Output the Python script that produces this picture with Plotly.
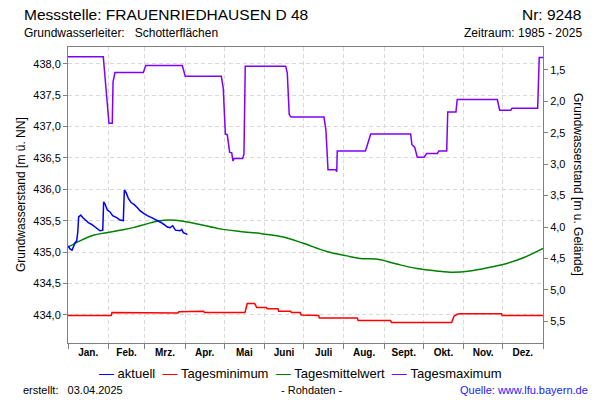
import plotly.graph_objects as go

# ---------------- data ----------------
MONTH_STARTS = [0, 31, 59, 90, 120, 151, 181, 212, 243, 273, 304, 334, 365]
MONTH_LABELS = ["Jan.", "Feb.", "Mrz.", "Apr.", "Mai", "Juni", "Juli",
                "Aug.", "Sept.", "Okt.", "Nov.", "Dez."]

GROUND = 439.4  # Geländehöhe [m ü. NN]

LEFT_TICKS = [434.0, 434.5, 435.0, 435.5, 436.0, 436.5, 437.0, 437.5, 438.0]
RIGHT_TICKS = [1.5, 2.0, 2.5, 3.0, 3.5, 4.0, 4.5, 5.0, 5.5]

# aktuell (2025)
AKT_DAY = [0.2, 1.5, 3.1, 4.1, 5.4, 6.7, 7.5, 8.2, 9.8, 11.3, 13.1, 15.6, 18.2,
           20.7, 22.8, 24.6, 26.7, 27.4, 28.4, 30.2, 32.3, 34.3, 37.4, 40.0,
           42.5, 43.3, 44.6, 46.3, 48.4, 50.7, 53.2, 55.3, 57.9, 60.9, 64.3,
           67.6, 70.7, 73.8, 76.3, 78.4, 80.5, 82.5, 86.1, 87.4, 88.6, 90.7, 91.7]
AKT_VAL = [435.10, 435.05, 435.03, 435.08, 435.15, 435.18, 435.32, 435.56,
           435.59, 435.55, 435.51, 435.47, 435.44, 435.40, 435.36, 435.34,
           435.35, 435.80, 435.77, 435.67, 435.64, 435.58, 435.55, 435.51,
           435.50, 435.99, 435.95, 435.86, 435.79, 435.76, 435.71, 435.66,
           435.62, 435.58, 435.55, 435.52, 435.48, 435.44, 435.40, 435.39,
           435.42, 435.35, 435.34, 435.36, 435.31, 435.29, 435.28]

# Tagesminimum
MIN_DAY = [0, 33.2, 33.8, 46.6, 47.2, 84.5, 85.2, 89.6, 90.2, 104.2, 104.8,
           136.0, 137.7, 143.4, 145.0, 152.4, 153.0, 161.3, 161.9, 171.1,
           171.7, 178.5, 179.1, 186.2, 186.8, 192.6, 193.2, 222.3, 222.9,
           247.9, 248.5, 257.3, 257.9, 287.6, 288.2, 294.8, 296.6, 299.0,
           301.2, 313.7, 314.3, 316.8, 317.4, 333.0, 333.6, 365]
MIN_VAL = [433.99, 433.99, 434.04, 434.04, 434.03, 434.03, 434.05, 434.05,
           434.06, 434.06, 434.04, 434.04, 434.18, 434.18, 434.12, 434.12,
           434.10, 434.10, 434.06, 434.06, 434.04, 434.04, 434.00, 434.00,
           433.99, 433.99, 433.95, 433.95, 433.91, 433.91, 433.88, 433.88,
           433.87, 433.87, 433.88, 433.88, 433.98, 434.01, 434.02, 434.02,
           434.03, 434.03, 434.02, 434.02, 433.99, 433.99]

# Tagesmittelwert
MEAN_DAY = [0, 9.2, 19.4, 29.7, 40.0, 50.2, 60.5, 70.7, 78.4, 88.6, 101.4,
            116.8, 132.2, 147.0, 150.1, 165.4, 180.8, 198.8, 214.2, 224.4,
            237.2, 252.6, 268.0, 283.3, 296.1, 308.9, 324.3, 337.1, 349.9, 365]
MEAN_VAL = [435.08, 435.18, 435.27, 435.31, 435.35, 435.39, 435.45, 435.50,
            435.51, 435.49, 435.44, 435.37, 435.33, 435.30, 435.29, 435.24,
            435.14, 435.01, 434.94, 434.90, 434.89, 434.81, 434.74, 434.70,
            434.68, 434.70, 434.76, 434.82, 434.91, 435.06]

# Tagesmaximum
MAX_DAY = [0, 27.1, 31.5, 34.0, 34.6, 36.1, 57.9, 59.7, 87.8, 90.1, 117.8,
           119.3, 120.9, 122.4, 124.2, 125.8, 126.8, 127.6, 134.2, 135.2,
           136.2, 167.3, 168.5, 170.0, 171.4, 196.7, 198.2, 199.8, 205.9,
           206.5, 206.9, 228.4, 229.2, 231.5, 232.6, 263.3, 264.3, 266.4,
           268.4, 273.6, 275.6, 283.8, 284.9, 291.0, 291.8, 298.1, 299.1,
           329.9, 331.7, 340.2, 341.2, 360.9, 362.1, 365]
MAX_VAL = [438.11, 438.11, 437.05, 437.05, 437.71, 437.86, 437.86, 437.97,
           437.97, 437.80, 437.80, 437.61, 436.88, 436.87, 436.59, 436.58,
           436.45, 436.49, 436.49, 436.56, 437.96, 437.96, 437.85, 437.19,
           437.15, 437.15, 436.94, 436.31, 436.31, 436.28, 436.61, 436.61,
           436.65, 436.80, 436.88, 436.88, 436.71, 436.67, 436.51, 436.51,
           436.57, 436.57, 436.61, 436.61, 437.23, 437.23, 437.43, 437.43,
           437.26, 437.26, 437.29, 437.29, 438.10, 438.10]

# ---------------- layout helpers ----------------
W, H = 600, 400
L, R, T, B = 68, 543, 47, 343
Y_MIN, Y_MAX = 433.553, 438.266
FONT = "Liberation Sans, Arial, sans-serif"
GRID = "#d9d9d9"
AXC = "#808080"


def px(x):
    return (x - L) / (R - L)


def py(y):
    return (B - y) / (B - T)


month_mids = [(a + b) / 2 for a, b in zip(MONTH_STARTS[:-1], MONTH_STARTS[1:])]

fig = go.Figure()
fig.add_trace(go.Scatter(x=MIN_DAY, y=MIN_VAL, mode="lines", name="Tagesminimum",
                         line=dict(color="#ff0000", width=1.5)))
fig.add_trace(go.Scatter(x=MEAN_DAY, y=MEAN_VAL, mode="lines", name="Tagesmittelwert",
                         line=dict(color="#008000", width=1.5, shape="spline")))
fig.add_trace(go.Scatter(x=MAX_DAY, y=MAX_VAL, mode="lines", name="Tagesmaximum",
                         line=dict(color="#8000ff", width=1.5)))
fig.add_trace(go.Scatter(x=AKT_DAY, y=AKT_VAL, mode="lines", name="aktuell",
                         line=dict(color="#0000ff", width=1.5)))
# registers the right-hand (depth) axis
fig.add_trace(go.Scatter(x=[], y=[], yaxis="y2", showlegend=False, hoverinfo="skip"))

fig.update_layout(
    width=W, height=H,
    margin=dict(l=L, r=W - R, t=T, b=H - B),
    paper_bgcolor="white", plot_bgcolor="white",
    showlegend=False,
    separators=",.",
    font=dict(family=FONT, color="black"),
    xaxis=dict(
        range=[0, 365], tickmode="array", tickvals=month_mids, ticktext=MONTH_LABELS,
        ticks="", showgrid=False, zeroline=False,
        showline=True, linecolor=AXC, linewidth=1, mirror=True,
        tickfont=dict(size=10, family=FONT, weight="bold"),
        minor=dict(tickmode="array", tickvals=MONTH_STARTS, ticks="outside",
                   ticklen=5, tickcolor=AXC, showgrid=True, gridcolor=GRID,
                   griddash="4px,3px", gridwidth=1),
    ),
    yaxis=dict(
        range=[Y_MIN, Y_MAX], tickmode="array", tickvals=LEFT_TICKS, tickformat=".1f",
        ticks="outside", ticklen=4, tickcolor=AXC, showline=True, linecolor=AXC,
        linewidth=1, showgrid=True, gridcolor=GRID, griddash="4px,3px",
        zeroline=False, tickfont=dict(size=11, family=FONT),
    ),
    yaxis2=dict(
        overlaying="y", side="right", anchor="x",
        range=[GROUND - Y_MIN, GROUND - Y_MAX], tickmode="array",
        tickvals=RIGHT_TICKS, tickformat=".1f",
        ticks="outside", ticklen=4, tickcolor=AXC, showline=True, linecolor=AXC,
        linewidth=1, showgrid=False, zeroline=False,
        tickfont=dict(size=11, family=FONT),
    ),
)

ann = []


def text(x, y, s, size, xanchor="left", color="black", angle=0):
    ann.append(dict(x=px(x), y=py(y), xref="paper", yref="paper", text=s,
                    showarrow=False, xanchor=xanchor, yanchor="middle",
                    textangle=angle, font=dict(size=size, family=FONT, color=color)))


text(22, 14, "Messstelle: FRAUENRIEDHAUSEN D 48", 15.5)
text(583, 14, "Nr: 9248", 15.5, xanchor="right")
text(22, 33, "Grundwasserleiter:\u00a0\u00a0 Schotterflächen", 12)
text(584, 33, "Zeitraum: 1985 - 2025", 12, xanchor="right")
text(21, 195, "Grundwasserstand [m ü. NN]", 12, xanchor="center", angle=-90)
text(578, 184, "Grundwasserstand [m u. Gelände]", 12, xanchor="center", angle=90)

legend_items = [("aktuell", "#0000ff"), ("Tagesminimum", "#ff0000"),
                ("Tagesmittelwert", "#008000"), ("Tagesmaximum", "#8000ff")]
legend_txt = "\u00a0\u00a0".join(
    f'<span style="color:{c};font-size:15px">\u2014</span>\u00a0{n}' for n, c in legend_items)
text(300, 372, legend_txt, 13, xanchor="center")

text(21, 390, "erstellt:\u00a0\u00a0 03.04.2025", 11)
text(311, 390, "- Rohdaten -", 11, xanchor="center")
text(590, 390, "Quelle: www.lfu.bayern.de", 11, xanchor="right", color="#2020ff")

fig.update_layout(annotations=ann)
fig.write_html("out.html")
